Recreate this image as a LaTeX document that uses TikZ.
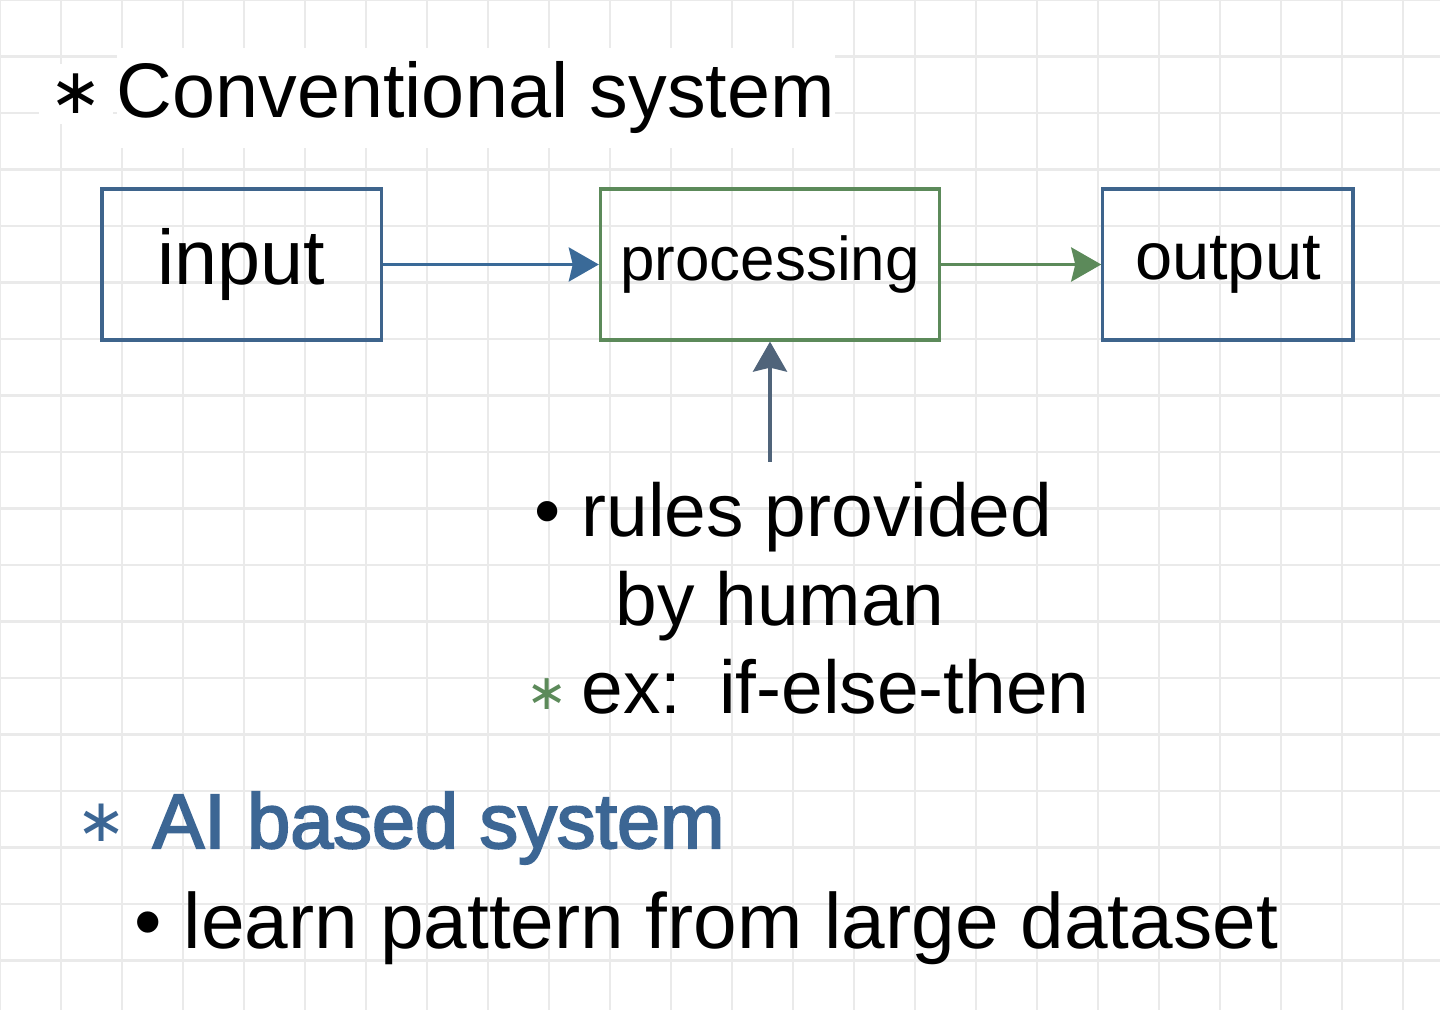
\documentclass[tikz,border=0pt]{standalone}
\usepackage{fontspec}
\setmainfont{Liberation Sans}
\newfontfamily\starfont{DejaVu Sans}
\newfontfamily\semibold[FakeBold=2.6]{Liberation Sans}
\usepackage{xcolor}
\usetikzlibrary{positioning, arrows.meta}

\definecolor{gridgray}{RGB}{234,234,234}
\definecolor{boxblue}{RGB}{62,100,140}
\definecolor{arrowblue}{RGB}{58,106,152}
\definecolor{procgreen}{RGB}{92,138,90}
\definecolor{upgray}{RGB}{80,100,122}
\definecolor{aiblue}{RGB}{60,102,148}

\begin{document}
\begin{tikzpicture}[
  x=0.01cm, y=-0.01cm,
  gridline/.style={draw=gridgray, line width=0.6pt},
  box/.style={draw, line width=0.9pt, minimum height=1.51cm, inner sep=0pt},
  lbl/.style={inner sep=0pt, anchor=base west, font=\fontsize{21.3}{25}\selectfont},
  staricon/.style={inner sep=0pt, font=\starfont\fontsize{18}{22}\selectfont},
  link/.style={line width=1pt, -{Stealth[length=0.3cm, width=0.34cm, inset=0.04cm]}}
]
\useasboundingbox (0,0) rectangle (1440,1010);
\fill[white] (0,0) rectangle (1440,1010);
\foreach \gx in {0,61,...,1440} \draw[gridline] (\gx,0) -- (\gx,1010);
\foreach \gy in {0,56.5,...,1010} \draw[gridline] (0,\gy) -- (1440,\gy);

% conventional system
\node[staricon, fill=white, inner sep=3pt] (star1) at (76,94) {∗};
\node[lbl, fill=white, inner ysep=4pt, font=\fontsize{22}{26}\selectfont] (conv) at (116,118) {Conventional system};

\node[box, draw=boxblue, minimum width=2.79cm, font=\fontsize{22}{26}\selectfont] (inp) at (241.5,264.5) {input};
\node[box, draw=procgreen, minimum width=3.39cm, right=2.16cm of inp, font=\fontsize{17.6}{21}\selectfont] (proc) {processing};
\node[box, draw=boxblue, minimum width=2.5cm, right=1.6cm of proc, font=\fontsize{19}{23}\selectfont] (outp) {output};

\draw[link, arrowblue] (inp) -- (proc);
\draw[link, procgreen] (proc) -- (outp);

\coordinate (feed) at (770,462);
\draw[link, upgray] (feed) -- (feed |- proc.south);

\node[lbl] (rules) at (534,537) {• rules provided};
\node[lbl] (human) at (615,625) {by human};
\node[staricon, text=procgreen, font=\starfont\fontsize{14}{18}\selectfont] (star2) at (547,694) {∗};
\node[lbl] (ex) at (581,713) {ex:\hspace{0.5em}if-else-then};

% AI based system
\node[staricon, text=aiblue, font=\starfont\fontsize{17}{20}\selectfont] (star3) at (102,823) {∗};
\node[lbl, text=aiblue, font=\semibold\fontsize{22}{26}\selectfont] (ai) at (152,848) {AI based system};
\node[lbl, font=\fontsize{22.3}{26}\selectfont] (learn) at (134,948) {• learn pattern from large dataset};
\end{tikzpicture}
\end{document}
